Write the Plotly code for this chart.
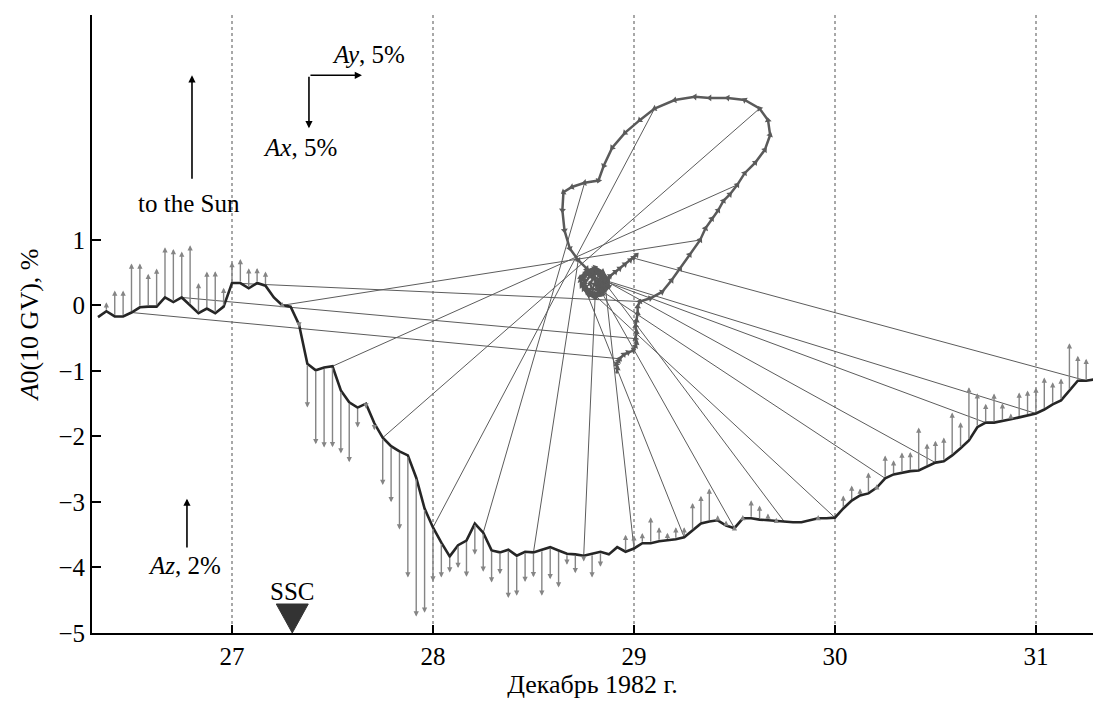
import plotly.graph_objects as go

# ---------------- data ----------------
# hourly samples starting 26 Dec 1982, 08 UT
start_day = 26 + 8 / 24
n_hours = 120
days = [start_day + i / 24 for i in range(n_hours)]

# A0 (10 GV), %
a0 = [-0.18, -0.09, -0.17, -0.17, -0.11, -0.03, -0.02, -0.02, 0.12, 0.05, 0.12, 0.00,
      -0.12, -0.05, -0.12, -0.02, 0.34, 0.34, 0.26, 0.34, 0.30, 0.12, 0.00, -0.02,
      -0.29, -0.89, -0.99, -0.95, -0.93, -1.30, -1.48, -1.56, -1.50, -1.80, -2.02, -2.15,
      -2.23, -2.29, -2.63, -3.10, -3.39, -3.62, -3.83, -3.66, -3.59, -3.33,
      -3.47, -3.74, -3.77, -3.73, -3.82, -3.76, -3.77, -3.73, -3.69, -3.74, -3.79, -3.80,
      -3.82, -3.79, -3.76, -3.80, -3.69, -3.76, -3.71, -3.63,
      -3.63, -3.60, -3.59, -3.57, -3.54, -3.44, -3.33, -3.30, -3.28, -3.36, -3.40, -3.25,
      -3.25, -3.27, -3.28, -3.30, -3.31, -3.31, -3.31, -3.28, -3.25, -3.25, -3.24,
      -3.10, -2.98, -2.90, -2.87, -2.78, -2.64, -2.58, -2.55, -2.53, -2.52, -2.46, -2.40,
      -2.38, -2.29, -2.18, -2.06, -1.86, -1.79, -1.79, -1.77, -1.74, -1.71, -1.68, -1.65,
      -1.59, -1.51, -1.45, -1.30, -1.15, -1.15, -1.13]

# Az, %
az = [0.06, 0.27, 0.79, 0.79, 1.50, 1.34, 1.00, 1.16, 1.53, 1.62, 1.40, 1.83,
      0.92, 1.13, 1.28, 0.58, 0.64, 0.73, 0.61, 0.46, 0.43, 0.05, 0.10, 0.05,
      -0.10, -1.34, -2.26, -2.44, -2.47, -1.92, -1.83, -0.61, -0.15, -0.21, -1.44, -1.71,
      -2.38, -3.73, -4.24, -3.18, -1.65, -1.07, -0.49, -0.70, -1.10, -0.95,
      -1.19, -0.98, -0.67, -1.47, -1.22, -0.92, -0.76, -1.40, -0.98, -1.13, -0.34, -0.58,
      -0.18, -0.73, -0.46, -0.06, 0.06, 0.52, 0.40, 0.31,
      0.79, 0.43, 0.24, 0.37, 0.31, 0.85, 0.85, 1.01, 0.15, 0.15, 0.09, 0.10,
      0.55, 0.43, 0.21, 0.12, 0.05, 0.05, 0.05, 0.05, 0.10, 0.05, 0.05,
      0.40, 0.46, 0.21, 0.64, 0.10, 0.70, 0.43, 0.61, 0.58, 1.31, 0.70, 0.67,
      0.73, 1.31, 0.79, 1.62, 1.04, 0.58, 0.89, 0.55, 0.18, 0.76, 0.76, 0.79,
      0.98, 0.67, 0.67, 1.44, 0.76, 0.67, 0.58]

# equatorial anisotropy components (hodograph), %
ay = [2.5, 2.6, 2.5, 2.7, 2.8, 3.2, 3.6, 4.1, 4.3, 4.4, 4.3,
      4.4, 4.3, 4.4, 4.5, 4.5, 4.7, 5.7, 6.8, 7.7, 8.5, 9.4, 10.4,
      10.9, 11.5, 12.1, 12.6, 13.2, 13.9, 14.6, 15.6, 16.5, 17.0, 16.8, 16.0,
      14.6, 13.0, 11.3, 9.9, 8.0, 6.1, 4.7, 3.3, 2.1, 1.3, 0.8, -0.5,
      -1.7, -2.5, -2.6, -2.4, -1.9, -1.1, -0.3, 0.3, 0.8,
      1.5, 1.1, 0.5, -0.1, -0.6, -0.5, 0.2, 0.9, 1.4, 1.5,
      0.9, 0.3, -0.3, -0.8, -0.9, -0.3, 0.5, 1.2, 1.7, 1.8,
      1.2, 0.5, -0.1, -0.6, -0.9, -0.4, 0.4, 1.2, 1.7, 1.5,
      0.8, 0.2, -0.4, -0.6, -0.2, 0.6, 1.3, 1.6, 1.1, 0.4,
      -0.2, -0.5, 0.0, 0.7, 1.2, 1.3, 0.7, 0.2, 0.0, 0.4,
      0.9, 1.1, 0.7, 0.4, 0.6,
      0.9, 1.4, 1.9, 2.4, 2.8, 3.3, 3.8, 4.1, 4.4]
ax = [8.8, 8.3, 7.9, 7.6, 7.4, 7.0, 6.8, 6.6, 6.2, 5.9, 5.5,
      4.9, 4.3, 3.8, 3.1, 2.5, 2.0, 1.7, 1.1, 0.0, -1.1, -2.4, -3.8,
      -4.9, -5.8, -6.6, -7.5, -8.1, -9.0, -10.1, -11.1, -12.3, -13.7, -15.1, -16.2,
      -17.0, -17.2, -17.2, -17.3, -17.0, -16.2, -15.1, -13.9, -12.5, -10.8, -9.4, -9.2,
      -8.8, -8.3, -6.6, -4.7, -3.0, -1.9, -1.1, -0.3, 0.4,
      0.2, 0.9, 1.3, 1.0, 0.4, -0.4, -0.8, -0.5, 0.1, 0.8,
      1.4, 1.5, 1.1, 0.5, -0.3, -0.9, -1.2, -0.8, -0.1, 0.6,
      1.3, 1.6, 1.4, 0.8, 0.0, -0.7, -1.1, -0.7, 0.0, 0.8,
      1.3, 1.2, 0.6, -0.1, -0.8, -0.9, -0.4, 0.4, 1.0, 1.3,
      0.9, 0.3, -0.4, -0.7, -0.1, 0.5, 0.9, 0.8, 0.3, -0.3,
      -0.1, 0.4, 0.6, 0.4, 0.1,
      0.2, 0.0, -0.4, -0.8, -1.1, -1.5, -1.9, -2.1, -2.4]

ssc_day = 27.3
x_ticks = [27, 28, 29, 30, 31]
y_ticks = [-5, -4, -3, -2, -1, 0, 1]
y_ticktext = ["\u22125", "\u22124", "\u22123", "\u22122", "\u22121", "0", "1"]

# ---------------- drawing scales ----------------
HOD_X0, HOD_Y0 = 28.781, 0.382       # hodograph origin in plot coords
DAY_PER_PCT = 0.05274                 # Ay scale (horizontal)
UNIT_PER_PCT = 0.1618                 # Ax scale (vertical, positive downward)
AZ_UNIT_PER_PCT = 0.5                 # Az arrows
LINE_STEP = 6                         # connecting lines every 6 h
LINE_FIRST = 4

hx = [HOD_X0 + v * DAY_PER_PCT for v in ay]
hy = [HOD_Y0 - v * UNIT_PER_PCT for v in ax]

FONT = "Liberation Serif"
FS_TICK = 25
FS_TITLE = 26
FS_TXT = 25
fig = go.Figure()

# connecting lines
cx, cy = [], []
for i in range(LINE_FIRST, n_hours, LINE_STEP):
    cx += [days[i], hx[i], None]
    cy += [a0[i], hy[i], None]
fig.add_trace(go.Scatter(x=cx, y=cy, mode="lines",
                         line=dict(color="#5c5c5c", width=1), hoverinfo="skip"))

# hodograph
fig.add_trace(go.Scatter(x=hx, y=hy, mode="lines+markers",
                         line=dict(color="#5a5a5a", width=2.5),
                         marker=dict(symbol="triangle-up", size=6, color="#5a5a5a",
                                     angleref="previous"),
                         hoverinfo="skip"))

# A0 curve
fig.add_trace(go.Scatter(x=days, y=a0, mode="lines",
                         line=dict(color="#262626", width=2.6), hoverinfo="skip"))

annotations = []
# Az arrows
for d, base, v in zip(days, a0, az):
    annotations.append(dict(x=d, y=base + v * AZ_UNIT_PER_PCT, ax=d, ay=base,
                            xref="x", yref="y", axref="x", ayref="y",
                            text="", showarrow=True, arrowhead=2, arrowsize=0.75,
                            arrowwidth=1.4, arrowcolor="#858585", standoff=0))

# scale arrows
corner_x, corner_y = 27.383, 3.51
annotations.append(dict(x=corner_x + 5 * DAY_PER_PCT, y=corner_y, ax=corner_x, ay=corner_y,
                        xref="x", yref="y", axref="x", ayref="y", text="", showarrow=True,
                        arrowhead=2, arrowsize=0.9, arrowwidth=1.6, arrowcolor="black"))
annotations.append(dict(x=corner_x, y=corner_y - 5 * UNIT_PER_PCT, ax=corner_x, ay=corner_y,
                        xref="x", yref="y", axref="x", ayref="y", text="", showarrow=True,
                        arrowhead=2, arrowsize=0.9, arrowwidth=1.6, arrowcolor="black"))
# to the Sun arrow
annotations.append(dict(x=26.801, y=3.51, ax=26.801, ay=1.91,
                        xref="x", yref="y", axref="x", ayref="y", text="", showarrow=True,
                        arrowhead=2, arrowsize=0.9, arrowwidth=1.6, arrowcolor="black"))
# Az scale arrow
annotations.append(dict(x=26.776, y=-2.95, ax=26.776, ay=-3.72,
                        xref="x", yref="y", axref="x", ayref="y", text="", showarrow=True,
                        arrowhead=2, arrowsize=0.9, arrowwidth=1.6, arrowcolor="black"))

txt = dict(xref="x", yref="y", showarrow=False, font=dict(family=FONT, size=FS_TXT, color="black"))
annotations += [
    dict(x=27.68, y=3.82, text="<i>Ay</i>, 5%", **txt),
    dict(x=27.338, y=2.41, text="<i>Ax</i>, 5%", **txt),
    dict(x=26.786, y=1.56, text="to the Sun", **txt),
    dict(x=26.766, y=-3.97, text="<i>Az</i>, 2%", **txt),
    dict(x=ssc_day, y=-4.36, text="SSC", **txt),
]

fig.add_shape(type="path", xref="x", yref="y", xsizemode="pixel", ysizemode="pixel",
              xanchor=ssc_day, yanchor=-5, path="M -16,29 L 16,29 L 0,0 Z",
              fillcolor="#333333", line=dict(color="#333333", width=1))

fig.update_layout(
    width=1093, height=706,
    margin=dict(l=92, r=0, t=15, b=73),
    paper_bgcolor="white", plot_bgcolor="white",
    showlegend=False,
    annotations=annotations,
    font=dict(family=FONT, size=FS_TICK, color="black"),
    xaxis=dict(range=[26.3035, 31.284], tickvals=x_ticks, ticktext=[str(v) for v in x_ticks],
               showline=True, linecolor="black", linewidth=2,
               ticks="inside", ticklen=8, tickwidth=2, tickcolor="black",
               showgrid=True, gridcolor="#a8a8a8", griddash="dot", gridwidth=1.5,
               zeroline=False,
               title=dict(text="Декабрь 1982 г.", font=dict(family=FONT, size=FS_TITLE), standoff=6),
               tickfont=dict(family=FONT, size=FS_TICK)),
    yaxis=dict(range=[-5, 4.43], tickvals=y_ticks, ticktext=y_ticktext,
               showline=True, linecolor="black", linewidth=2,
               ticks="inside", ticklen=9, tickwidth=2, tickcolor="black",
               showgrid=False, zeroline=False,
               title=dict(text="<i>A</i>0(10 GV), %", font=dict(family=FONT, size=FS_TITLE), standoff=12),
               tickfont=dict(family=FONT, size=FS_TICK)),
)

fig.write_html("out.html")
